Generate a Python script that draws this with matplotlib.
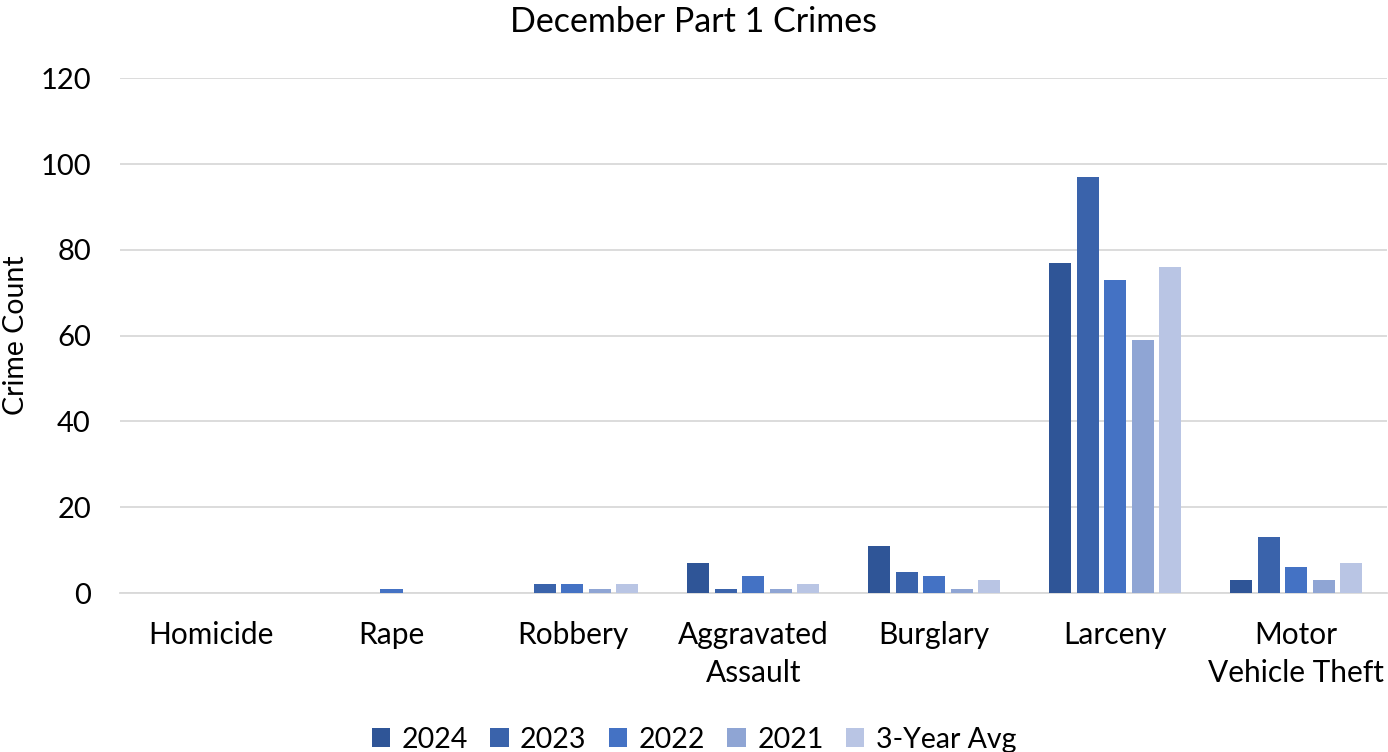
import numpy as np
import matplotlib.pyplot as plt

plt.rcParams['font.family'] = ['Lato', 'DejaVu Sans']

categories = ['Homicide', 'Rape', 'Robbery', 'Aggravated\nAssault', 'Burglary',
              'Larceny', 'Motor\nVehicle Theft']
series_names = ['2024', '2023', '2022', '2021', '3-Year Avg']
v2024 = [0, 0, 0, 7, 11, 77, 3]
v2023 = [0, 0, 2, 1, 5, 97, 13]
v2022 = [0, 1, 2, 4, 4, 73, 6]
v2021 = [0, 0, 1, 1, 1, 59, 3]
avg3 = [0, 0, 2, 2, 3, 76, 7]
colors = ['#2F5597', '#3A63AB', '#4472C4', '#8FA5D4', '#B9C5E4']

fig = plt.figure(figsize=(13.88, 7.52), dpi=100)
ax = fig.add_axes([0.0865, 0.2114, 0.9125, 0.6846])

x = np.arange(len(categories))
step = 0.152
width = 0.122
for i, (name, vals) in enumerate(zip(series_names, [v2024, v2023, v2022, v2021, avg3])):
    ax.bar(x + (i - 2) * step, vals, width, color=colors[i], label=name, zorder=3)

ax.set_xlim(-0.5, len(categories) - 0.5)
ax.set_ylim(0, 120)
ax.set_yticks(range(0, 121, 20))
ax.set_xticks(x)
ax.set_xticklabels(categories, fontsize=21.5, linespacing=1.45)
ax.tick_params(axis='y', labelsize=21, length=0, pad=21)
ax.tick_params(axis='x', length=0, pad=20)
ax.grid(axis='y', color='#D9D9D9', linewidth=1.3, zorder=0)
for s in ['top', 'right', 'left']:
    ax.spines[s].set_visible(False)
ax.spines['bottom'].set_color('#D9D9D9')
ax.spines['bottom'].set_linewidth(1.3)
ax.set_ylabel('Crime Count', fontsize=20.5, va='center')
ax.yaxis.set_label_coords(-0.082, 0.5)
fig.suptitle('December Part 1 Crimes', fontsize=24.5, y=0.992)

fig.legend(loc='lower center', ncol=5, frameon=False, fontsize=20.5,
           bbox_to_anchor=(0.5, -0.035), handlelength=0.65, handleheight=0.65,
           columnspacing=0.78, handletextpad=0.4)

fig.savefig('out.png', dpi=100)
